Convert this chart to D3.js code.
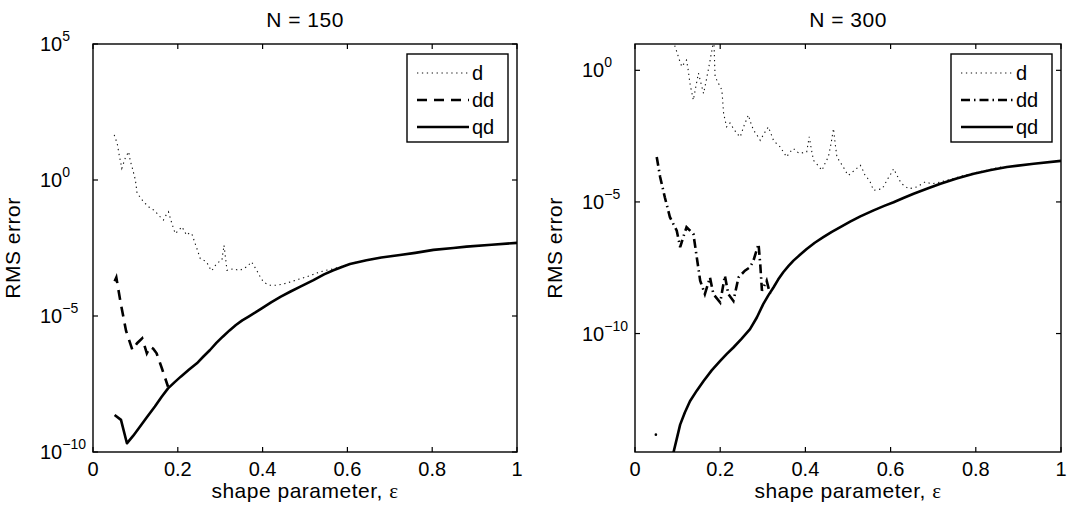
<!DOCTYPE html>
<html>
<head>
<meta charset="utf-8">
<script src="https://cdn.jsdelivr.net/npm/d3@7/dist/d3.min.js"></script>
<style>
  html, body { margin: 0; padding: 0; background: #fff; }
  svg { display: block; font-family: "Liberation Sans", Arial, Helvetica, sans-serif; }
</style>
</head>
<body>
<svg id="fig" width="1077" height="508"></svg>
<script>
// RMS error versus shape parameter; every value is stored as log10(RMS error).
const xTicks = [0, 0.2, 0.4, 0.6, 0.8, 1];
const xTickLabels = ["0", "0.2", "0.4", "0.6", "0.8", "1"];
const seriesNames = ["d", "dd", "qd"];

// ---------- N = 150 ----------
const n150YTicks = [5, 0, -5, -10];
const n150D = [
  [0.050,1.66],[0.057,1.35],[0.062,0.9],[0.068,0.43],[0.076,0.8],[0.084,1.04],[0.088,0.7],
  [0.092,0.49],[0.100,0],[0.104,-0.49],[0.112,-0.65],[0.119,-0.80],[0.127,-0.92],[0.135,-1.04],
  [0.143,-1.1],[0.151,-1.23],[0.158,-1.35],[0.166,-1.47],[0.172,-1.3],[0.178,-1.17],[0.186,-1.6],
  [0.194,-1.97],[0.202,-1.85],[0.210,-1.72],[0.216,-1.9],[0.221,-2.03],[0.227,-1.95],[0.233,-1.97],
  [0.239,-2.25],[0.245,-2.52],[0.253,-2.89],[0.261,-2.95],[0.268,-3.01],[0.274,-3.2],[0.280,-3.34],
  [0.286,-3.2],[0.292,-3.07],[0.298,-3.0],[0.304,-2.95],[0.309,-2.40],[0.316,-3.32],[0.323,-3.3],
  [0.331,-3.26],[0.339,-3.3],[0.347,-3.32],[0.355,-3.25],[0.363,-3.19],[0.374,-3.01],[0.386,-3.32],
  [0.394,-3.55],[0.402,-3.75],[0.410,-3.82],[0.418,-3.87],[0.433,-3.87],[0.450,-3.82],[0.465,-3.75],
  [0.485,-3.65],[0.504,-3.56],[0.520,-3.47],[0.535,-3.38],[0.550,-3.32],[0.567,-3.26],[0.583,-3.19],
  [0.598,-3.13],[0.610,-3.07],[0.622,-3.01]
];
const n150DD = [
  [0.051,-3.72],[0.055,-3.58],[0.065,-4.5],[0.078,-5.55],[0.093,-6.25],[0.104,-6.0],[0.116,-5.82],
  [0.127,-6.37],[0.135,-6.13],[0.142,-6.2],[0.150,-6.37],[0.163,-6.95],[0.177,-7.6]
];
const n150QD = [
  [0.051,-8.64],[0.066,-8.82],[0.080,-9.68],[0.095,-9.4],[0.108,-9.13],[0.127,-8.72],[0.146,-8.33],
  [0.162,-7.97],[0.177,-7.66],[0.192,-7.44],[0.207,-7.23],[0.226,-6.98],[0.245,-6.74],[0.261,-6.48],
  [0.276,-6.25],[0.291,-5.99],[0.306,-5.76],[0.322,-5.53],[0.337,-5.33],[0.352,-5.16],[0.367,-5.02],
  [0.383,-4.87],[0.398,-4.72],[0.420,-4.50],[0.443,-4.29],[0.466,-4.10],[0.489,-3.92],[0.520,-3.68],
  [0.545,-3.47],[0.567,-3.32],[0.590,-3.18],[0.606,-3.09],[0.645,-2.95],[0.680,-2.85],[0.724,-2.76],
  [0.760,-2.68],[0.803,-2.57],[0.850,-2.50],[0.881,-2.45],[0.940,-2.38],[1.0,-2.31]
];

// ---------- N = 300 ----------
const n300YTicks = [0, -5, -10];
const n300D = [
  [0.049,-13.84], null,
  [0.088,1.3],[0.094,0.9],[0.098,0.71],[0.104,0.4],[0.110,0.14],[0.121,0.39],[0.125,0],[0.129,-0.50],
  [0.137,-1.13],[0.143,-0.6],[0.149,-0.11],[0.155,-0.5],[0.161,-0.88],[0.167,-0.4],[0.172,0.01],
  [0.180,0.71],[0.185,1.2],[0.188,-0.24],[0.196,-0.5],[0.204,-0.75],[0.208,-1.64],[0.215,-2.15],
  [0.223,-2.0],[0.231,-2.21],[0.239,-2.4],[0.247,-2.53],[0.256,-2.1],[0.266,-1.70],[0.272,-2.0],
  [0.278,-2.27],[0.286,-2.45],[0.294,-2.66],[0.303,-2.4],[0.313,-2.15],[0.319,-2.4],[0.325,-2.66],
  [0.333,-2.8],[0.341,-2.91],[0.348,-3.1],[0.356,-3.29],[0.364,-3.1],[0.372,-2.97],[0.380,-3.1],
  [0.388,-3.16],[0.396,-3.12],[0.403,-3.10],[0.409,-2.53],[0.414,-3.0],[0.419,-3.42],[0.429,-3.6],
  [0.439,-3.80],[0.447,-3.5],[0.454,-3.29],[0.460,-2.8],[0.466,-2.21],[0.470,-2.8],[0.474,-3.29],
  [0.482,-3.5],[0.489,-3.67],[0.495,-3.85],[0.501,-3.99],[0.515,-3.8],[0.529,-3.61],[0.535,-3.8],
  [0.540,-3.99],[0.546,-4.1],[0.552,-4.24],[0.560,-4.56],[0.570,-4.53],[0.580,-4.50],[0.586,-4.35],
  [0.591,-4.18],[0.600,-3.95],[0.607,-3.74],[0.615,-3.99],[0.620,-4.15],[0.626,-4.31],[0.634,-4.4],
  [0.642,-4.50],[0.652,-4.47],[0.662,-4.43],[0.672,-4.33],[0.681,-4.24],[0.690,-4.28],[0.697,-4.31],
  [0.715,-4.25],[0.732,-4.18],[0.760,-4.05],[0.795,-3.90],[0.830,-3.78],[0.861,-3.67]
];
const n300DD = [
  [0.051,-3.29],[0.059,-4.05],[0.070,-4.82],[0.082,-5.58],[0.098,-6.09],[0.106,-6.72],[0.114,-6.3],
  [0.121,-5.96],[0.137,-6.21],[0.145,-7.10],[0.153,-7.99],[0.164,-8.50],[0.176,-7.87],[0.184,-8.50],
  [0.200,-8.82],[0.211,-7.80],[0.219,-8.50],[0.231,-8.76],[0.243,-7.87],[0.258,-7.61],[0.270,-7.48],
  [0.278,-7.23],[0.290,-6.60],[0.294,-7.36],[0.298,-8.37],[0.309,-7.99],[0.317,-8.50]
];
const n300QD = [
  [0.085,-15.2],[0.090,-14.54],[0.098,-14.0],[0.106,-13.46],[0.117,-13.0],[0.129,-12.57],[0.145,-12.17],
  [0.161,-11.80],[0.180,-11.40],[0.200,-11.04],[0.215,-10.78],[0.231,-10.53],[0.250,-10.2],[0.270,-9.83],
  [0.286,-9.39],[0.301,-8.88],[0.313,-8.55],[0.325,-8.25],[0.336,-7.95],[0.348,-7.67],[0.360,-7.44],
  [0.372,-7.23],[0.388,-7.0],[0.403,-6.79],[0.422,-6.55],[0.442,-6.34],[0.462,-6.14],[0.482,-5.96],
  [0.505,-5.75],[0.529,-5.55],[0.560,-5.32],[0.585,-5.15],[0.607,-5.01],[0.630,-4.85],[0.654,-4.69],
  [0.685,-4.50],[0.717,-4.31],[0.755,-4.11],[0.795,-3.93],[0.835,-3.79],[0.873,-3.67],[0.936,-3.55],
  [1.0,-3.44]
];

const panels = [
  { title: "N = 150", left: 93, right: 517, top: 44, bottom: 452,
    yExp: [-10, 5], yTicks: n150YTicks, ddDash: "10,7",
    d: n150D, dd: n150DD, qd: n150QD },
  { title: "N = 300", left: 635, right: 1061, top: 44, bottom: 452,
    yExp: [-14.5, 1], yTicks: n300YTicks, ddDash: "9,4,1.5,4",
    d: n300D, dd: n300DD, qd: n300QD }
];

const svg = d3.select("#fig");
svg.append("rect").attr("width", 1077).attr("height", 508).attr("fill", "#fff");

const FS = 20;       // tick and legend text
const LFS = 21;      // titles and axis labels
const LS = 0.5;      // letter spacing of titles and axis labels
const styles = {
  d:  { width: 1.1, dash: "1.3,3.6", color: "#111" },
  qd: { width: 2.6, dash: null, color: "#000" }
};

panels.forEach((p, i) => {
  const x = d3.scaleLinear().domain([0, 1]).range([p.left, p.right]);
  const y = d3.scaleLog()
    .domain([Math.pow(10, p.yExp[0]), Math.pow(10, p.yExp[1])])
    .range([p.bottom, p.top]);
  const g = svg.append("g");

  const clipId = "clip" + i;
  svg.append("clipPath").attr("id", clipId)
    .append("rect").attr("x", p.left).attr("y", p.top)
    .attr("width", p.right - p.left).attr("height", p.bottom - p.top);

  const line = d3.line()
    .defined(v => v !== null)
    .x(v => x(v[0]))
    .y(v => y(Math.pow(10, v[1])));

  const plot = g.append("g").attr("clip-path", `url(#${clipId})`);

  // series d (dotted), dd (dashed / dash-dot), qd (solid)
  plot.append("path").datum(p.d).attr("d", line)
    .attr("fill", "none").attr("stroke", styles.d.color)
    .attr("stroke-width", styles.d.width).attr("stroke-dasharray", styles.d.dash);
  // isolated samples of the dotted series
  const isolated = p.d.filter((v, k, a) => v !== null &&
    (k === 0 || a[k - 1] === null) && (k === a.length - 1 || a[k + 1] === null));
  plot.selectAll("circle.iso").data(isolated).join("circle").attr("class", "iso")
    .attr("cx", v => x(v[0])).attr("cy", v => y(Math.pow(10, v[1])))
    .attr("r", 1.3).attr("fill", "#000");

  plot.append("path").datum(p.dd).attr("d", line)
    .attr("fill", "none").attr("stroke", "#000")
    .attr("stroke-width", 2.6).attr("stroke-dasharray", p.ddDash);

  plot.append("path").datum(p.qd).attr("d", line)
    .attr("fill", "none").attr("stroke", styles.qd.color)
    .attr("stroke-width", styles.qd.width).attr("stroke-linejoin", "round");

  // frame
  g.append("rect").attr("x", p.left).attr("y", p.top)
    .attr("width", p.right - p.left).attr("height", p.bottom - p.top)
    .attr("fill", "none").attr("stroke", "#000").attr("stroke-width", 1.4);

  // x ticks (inside, bottom and top) and labels
  const TL = 5;
  xTicks.forEach((t, k) => {
    const px = x(t);
    g.append("line").attr("x1", px).attr("x2", px)
      .attr("y1", p.bottom).attr("y2", p.bottom - TL).attr("stroke", "#000").attr("stroke-width", 1.2);
    g.append("line").attr("x1", px).attr("x2", px)
      .attr("y1", p.top).attr("y2", p.top + TL).attr("stroke", "#000").attr("stroke-width", 1.2);
    g.append("text").attr("x", px).attr("y", 476)
      .attr("text-anchor", "middle").attr("font-size", FS).attr("fill", "#000")
      .text(xTickLabels[k]);
  });

  // y ticks (inside, left and right) and power-of-ten labels
  p.yTicks.forEach(e => {
    const py = y(Math.pow(10, e));
    g.append("line").attr("x1", p.left).attr("x2", p.left + TL)
      .attr("y1", py).attr("y2", py).attr("stroke", "#000").attr("stroke-width", 1.2);
    g.append("line").attr("x1", p.right).attr("x2", p.right - TL)
      .attr("y1", py).attr("y2", py).attr("stroke", "#000").attr("stroke-width", 1.2);
    const t = g.append("text").attr("x", p.left - 53).attr("y", py + 7)
      .attr("font-size", FS).attr("fill", "#000");
    t.append("tspan").text("10");
    t.append("tspan").attr("font-size", 14).attr("dy", -10)
      .text(e < 0 ? "\u2212" + Math.abs(e) : String(e));
  });

  // title
  svg.append("text").attr("x", (p.left + p.right) / 2).attr("y", 27)
    .attr("text-anchor", "middle").attr("font-size", LFS).attr("letter-spacing", LS)
    .text(p.title);

  // x label
  const xl = svg.append("text").attr("x", (p.left + p.right) / 2).attr("y", 498)
    .attr("text-anchor", "middle").attr("font-size", LFS).attr("letter-spacing", LS);
  xl.append("tspan").text("shape parameter, ");
  xl.append("tspan").attr("font-family", "'Liberation Serif', 'DejaVu Serif', serif").text("\u03b5");

  // y label
  const ylx = p.left - 73, yly = (p.top + p.bottom) / 2;
  svg.append("text").attr("transform", `translate(${ylx},${yly}) rotate(-90)`)
    .attr("text-anchor", "middle").attr("font-size", LFS).attr("letter-spacing", LS)
    .text("RMS error");

  // legend
  const lgX = p.right - 110, lgY = p.top + 10, lgW = 101, lgH = 88;
  const lg = g.append("g");
  lg.append("rect").attr("x", lgX).attr("y", lgY).attr("width", lgW).attr("height", lgH)
    .attr("fill", "#fff").attr("stroke", "#000").attr("stroke-width", 1.4);
  seriesNames.forEach((name, k) => {
    const ry = lgY + 19 + k * 27;
    const ln = lg.append("line").attr("x1", lgX + 10).attr("x2", lgX + 62)
      .attr("y1", ry).attr("y2", ry).attr("stroke", "#000");
    if (name === "d") ln.attr("stroke-width", styles.d.width).attr("stroke-dasharray", styles.d.dash).attr("stroke", styles.d.color);
    else if (name === "dd") ln.attr("stroke-width", 2.6).attr("stroke-dasharray", p.ddDash);
    else ln.attr("stroke-width", 2.6);
    lg.append("text").attr("x", lgX + 65).attr("y", ry + 7)
      .attr("font-size", FS).text(name);
  });
});
</script>
</body>
</html>
